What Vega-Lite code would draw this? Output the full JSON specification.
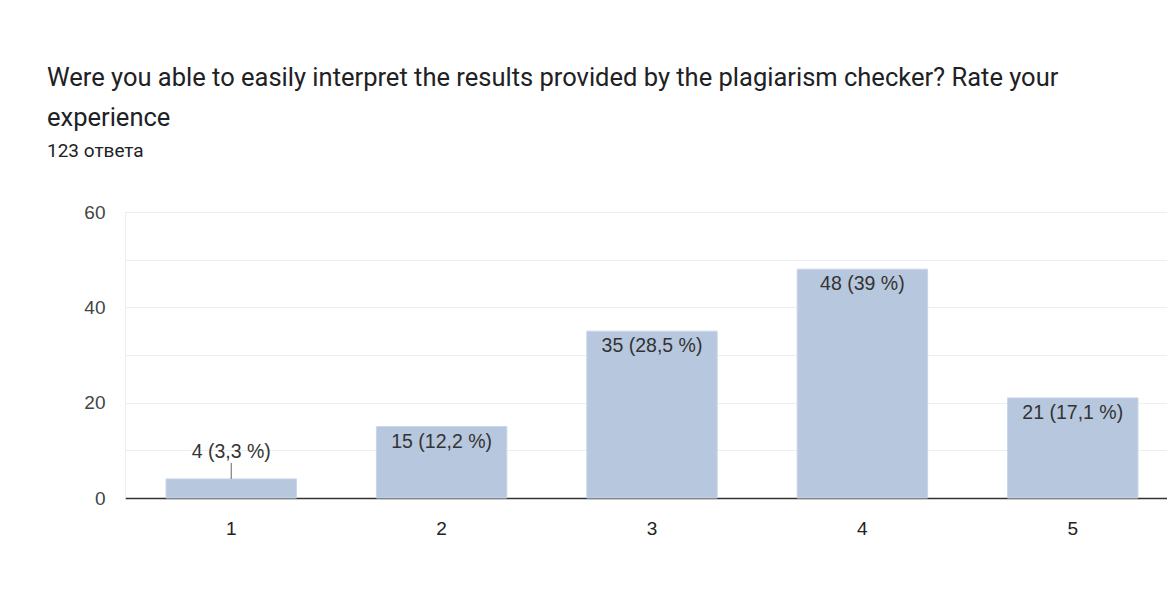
{
  "$schema": "https://vega.github.io/schema/vega-lite/v6.json",
  "width": 1042,
  "height": 286,
  "autosize": {"type": "none"},
  "padding": {"left": 125, "top": 212, "right": 0, "bottom": 112},
  "background": "white",
  "title": {
    "text": ["Were you able to easily interpret the results provided by the plagiarism checker? Rate your", "experience"],
    "subtitle": "123 ответа",
    "anchor": "start",
    "frame": "group",
    "dx": -78,
    "offset": 42,
    "font": "Roboto",
    "fontSize": 25.5,
    "fontWeight": "normal",
    "color": "#202124",
    "lineHeight": 40,
    "subtitleFont": "Roboto",
    "subtitleFontSize": 19,
    "subtitleColor": "#202124",
    "subtitlePadding": 11
  },
  "data": {
    "values": [
      {"rating": "1", "count": 4, "label": "4 (3,3 %)"},
      {"rating": "2", "count": 15, "label": "15 (12,2 %)"},
      {"rating": "3", "count": 35, "label": "35 (28,5 %)"},
      {"rating": "4", "count": 48, "label": "48 (39 %)"},
      {"rating": "5", "count": 21, "label": "21 (17,1 %)"}
    ]
  },
  "encoding": {
    "x": {
      "field": "rating",
      "type": "nominal",
      "sort": null,
      "scale": {"range": [0, 1054], "paddingInner": 0.38, "paddingOuter": 0.195},
      "axis": {
        "title": null,
        "labelAngle": 0,
        "ticks": false,
        "domainColor": "#333333",
        "domainWidth": 1.5,
        "labelPadding": 21,
        "labelFont": "Liberation Sans",
        "labelFontSize": 19,
        "labelColor": "#222222",
        "grid": false
      }
    },
    "y": {
      "field": "count",
      "type": "quantitative",
      "scale": {"domain": [0, 60], "nice": false},
      "axis": {
        "title": null,
        "values": [0, 10, 20, 30, 40, 50, 60],
        "labelExpr": "datum.value % 20 == 0 ? datum.label : ''",
        "ticks": false,
        "domain": true,
        "domainColor": "#eeeeee",
        "gridColor": "#eeeeee",
        "gridWidth": 1,
        "labelPadding": 20,
        "labelFont": "Liberation Sans",
        "labelFontSize": 19,
        "labelColor": "#444444"
      }
    }
  },
  "layer": [
    {
      "mark": {"type": "bar", "color": "#b7c7de", "stroke": "#c9d6e8", "strokeWidth": 1}
    },
    {
      "transform": [{"filter": "datum.count >= 10"}],
      "mark": {"type": "text", "baseline": "alphabetic", "dy": 21, "font": "Liberation Sans", "fontSize": 19.5, "color": "#333333"},
      "encoding": {"text": {"field": "label"}}
    },
    {
      "transform": [{"filter": "datum.count < 10"}],
      "mark": {"type": "text", "baseline": "alphabetic", "dy": -21, "font": "Liberation Sans", "fontSize": 19.5, "color": "#333333"},
      "encoding": {"text": {"field": "label"}}
    },
    {
      "transform": [{"filter": "datum.count < 10"}],
      "mark": {"type": "rule", "color": "#666666", "strokeWidth": 1, "y2Offset": -16},
      "encoding": {"y2": {"field": "count"}}
    }
  ]
}
